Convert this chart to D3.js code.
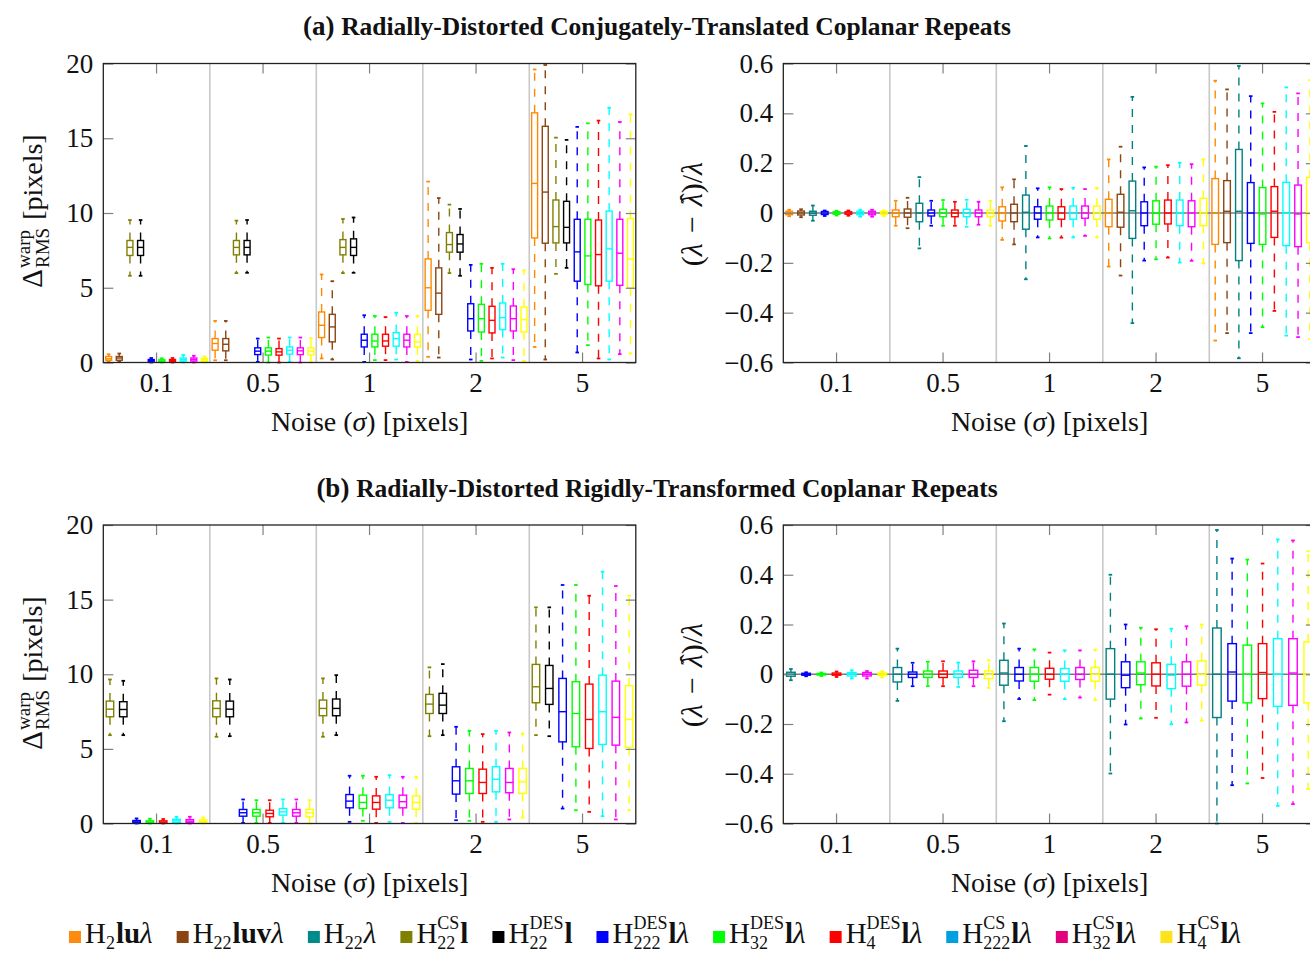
<!DOCTYPE html>
<html>
<head>
<meta charset="utf-8">
<script src="https://cdn.jsdelivr.net/npm/d3@7"></script>
<style>
  body { margin: 0; background: #fff; }
  svg text { font-family: "Liberation Serif", "Times New Roman", serif; fill: #111; }
</style>
</head>
<body>
<svg id="chart" width="1310" height="954"></svg>
<script>
// Noise levels (x groups)
const noiseLevels = ["0.1", "0.5", "1", "2", "5"];

// Stroke colours used for the box plots
const lineColors = {
  h2lu: "#ff8a00", h22luv: "#8b4513", h22: "#008080", h22csl: "#808000", h22desl: "#000000",
  h222des: "#0000ff", h32des: "#00ff00", h4des: "#ff0000", h222cs: "#00ffff", h32cs: "#ff00ff", h4cs: "#ffff00"
};
// Legend swatch colours
const swatchColors = {
  h2lu: "#ff8a10", h22luv: "#8b4513", h22: "#008b8b", h22csl: "#808000", h22desl: "#000000",
  h222des: "#0000ff", h32des: "#00ff00", h4des: "#ff0000", h222cs: "#00a0e0", h32cs: "#e4007c", h4cs: "#ffe31a"
};

// Five-number summaries per noise level: [low whisker, q1, median, q3, high whisker]
// (a) warp error, conjugately-translated repeats
const warpA = [
  ["h2lu",    [[0.05,0.15,0.25,0.4,0.55],[0.15,0.82,1.27,1.6,2.78],[0.27,1.67,2.49,3.38,5.89],[0.38,3.49,5.0,6.93,12.1],[1.04,8.33,11.98,16.7,19.6]]],
  ["h22luv",  [[0.05,0.15,0.3,0.4,0.6],[0.15,0.78,1.22,1.6,2.78],[0.2,1.38,2.38,3.22,5.44],[0.33,3.22,4.64,6.33,11.0],[0.2,7.98,11.4,15.8,19.9]]],
  ["h22csl",  [[5.8,7.16,7.7,8.16,9.53],[5.98,7.2,7.7,8.16,9.49],[5.98,7.2,7.7,8.22,9.6],[5.98,7.38,7.89,8.69,10.56],[5.93,8.0,9.09,10.87,15.04]]],
  ["h22desl", [[5.8,7.16,7.7,8.16,9.53],[6.0,7.2,7.7,8.16,9.53],[6.0,7.16,7.7,8.27,9.7],[5.8,7.38,7.93,8.56,10.27],[6.33,8.0,9.04,10.78,14.89]]],
  ["h222des", [[0.0,0.05,0.12,0.2,0.3],[0.04,0.53,0.76,0.98,1.6],[0.04,1.04,1.49,1.89,3.16],[0.2,2.11,2.93,3.93,6.53],[0.67,5.44,7.4,9.58,15.76]]],
  ["h32des",  [[0.0,0.04,0.1,0.18,0.28],[0.0,0.5,0.76,0.98,1.67],[0.16,1.04,1.44,1.89,3.11],[0.11,2.04,2.93,3.89,6.6],[1.16,5.22,7.13,9.58,16.0]]],
  ["h4des",   [[0.0,0.05,0.12,0.2,0.3],[0.0,0.49,0.71,0.93,1.6],[0.16,1.09,1.44,1.89,3.04],[0.27,1.98,2.82,3.76,6.33],[0.27,5.13,7.22,9.53,16.18]]],
  ["h222cs",  [[0.0,0.1,0.2,0.3,0.5],[0.04,0.56,0.82,1.04,1.67],[0.2,1.09,1.6,2.0,3.33],[0.33,2.2,3.0,3.98,6.6],[0.2,5.44,7.6,10.13,17.04]]],
  ["h32cs",   [[0.0,0.1,0.2,0.3,0.45],[0.0,0.53,0.78,0.98,1.67],[0.04,1.04,1.49,1.89,3.11],[0.16,2.11,2.93,3.78,6.24],[0.56,5.16,7.31,9.58,16.09]]],
  ["h4cs",    [[0.0,0.08,0.18,0.28,0.4],[0.0,0.51,0.76,0.98,1.62],[0.11,1.04,1.38,1.89,3.11],[0.11,2.04,2.87,3.71,6.16],[0.6,4.98,6.93,9.64,16.6]]]
];

// (a) relative error of the distortion parameter
const lambdaA = [
  ["h2lu",    [[-0.013,-0.007,0,0.007,0.013],[-0.051,-0.015,0,0.012,0.049],[-0.108,-0.032,0,0.025,0.103],[-0.215,-0.055,0,0.055,0.215],[-0.512,-0.126,0,0.138,0.531]]],
  ["h22luv",  [[-0.017,-0.008,0,0.008,0.015],[-0.061,-0.017,0,0.016,0.061],[-0.126,-0.035,0,0.035,0.135],[-0.251,-0.057,0.003,0.075,0.266],[-0.482,-0.119,0.007,0.13,0.496]]],
  ["h22",     [[-0.031,-0.009,-0.001,0.007,0.03],[-0.142,-0.035,0,0.039,0.144],[-0.266,-0.065,0.003,0.072,0.269],[-0.442,-0.102,0.009,0.128,0.466],[-0.583,-0.191,0.007,0.255,0.59]]],
  ["h222des", [[-0.012,-0.006,0,0.006,0.01],[-0.051,-0.012,0,0.012,0.049],[-0.098,-0.025,0,0.025,0.099],[-0.191,-0.051,0,0.045,0.183],[-0.482,-0.122,0,0.122,0.469]]],
  ["h32des",  [[-0.01,-0.005,0,0.005,0.009],[-0.051,-0.015,0,0.015,0.052],[-0.102,-0.028,0,0.028,0.103],[-0.186,-0.045,0,0.049,0.186],[-0.458,-0.126,-0.004,0.102,0.44]]],
  ["h4des",   [[-0.011,-0.005,0,0.005,0.01],[-0.051,-0.015,0,0.012,0.045],[-0.099,-0.025,0,0.025,0.096],[-0.179,-0.044,0,0.052,0.192],[-0.393,-0.098,0.007,0.106,0.406]]],
  ["h222cs",  [[-0.015,-0.007,0,0.007,0.013],[-0.055,-0.015,0,0.015,0.053],[-0.098,-0.025,0,0.028,0.101],[-0.199,-0.051,0,0.052,0.202],[-0.492,-0.131,0,0.123,0.504]]],
  ["h32cs",   [[-0.015,-0.007,0,0.007,0.013],[-0.047,-0.015,0,0.012,0.045],[-0.092,-0.021,0,0.028,0.096],[-0.192,-0.055,0,0.049,0.196],[-0.498,-0.135,-0.004,0.112,0.48]]],
  ["h4cs",    [[-0.012,-0.006,0,0.006,0.01],[-0.051,-0.015,0,0.012,0.049],[-0.098,-0.025,0,0.028,0.101],[-0.202,-0.051,0,0.059,0.215],[-0.506,-0.119,0,0.143,0.533]]]
];

// (b) warp error, rigidly-transformed repeats
const warpB = [
  ["h22csl",  [[5.92,7.15,7.66,8.2,9.65],[5.81,7.15,7.71,8.22,9.72],[5.81,7.22,7.71,8.27,9.72],[5.85,7.37,8.0,8.65,10.46],[5.92,8.09,9.16,10.66,14.48]]],
  ["h22desl", [[5.92,7.15,7.64,8.16,9.56],[5.85,7.15,7.66,8.2,9.65],[5.92,7.22,7.71,8.34,9.94],[5.92,7.37,7.93,8.72,10.68],[5.85,7.98,9.05,10.59,14.48]]],
  ["h222des", [[0.0,0.05,0.11,0.2,0.34],[0.04,0.49,0.72,0.94,1.61],[0.11,1.05,1.5,1.94,3.2],[0.22,1.97,2.86,3.8,6.48],[1.0,5.47,7.49,9.72,15.98]]],
  ["h32des",  [[0.0,0.04,0.1,0.18,0.32],[0.04,0.49,0.72,0.94,1.56],[0.18,1.0,1.41,1.9,3.2],[0.18,2.01,2.86,3.69,6.21],[0.89,5.14,7.37,9.5,15.98]]],
  ["h4des",   [[0.0,0.04,0.1,0.18,0.3],[0.04,0.45,0.67,0.89,1.56],[0.04,0.96,1.41,1.85,3.13],[0.11,2.01,2.75,3.64,5.99],[0.78,5.03,6.97,9.34,15.26]]],
  ["h222cs",  [[0.0,0.08,0.18,0.28,0.45],[0.04,0.56,0.78,1.0,1.61],[0.11,1.05,1.56,1.94,3.24],[0.11,2.12,2.97,3.8,6.21],[0.49,5.3,7.49,9.94,16.87]]],
  ["h32cs",   [[0.0,0.08,0.16,0.26,0.45],[0.04,0.49,0.72,0.94,1.61],[0.04,1.05,1.46,1.9,3.13],[0.27,2.06,2.75,3.69,6.1],[0.27,5.25,7.11,9.54,15.91]]],
  ["h4cs",    [[0.0,0.06,0.14,0.24,0.4],[0.0,0.45,0.72,0.94,1.56],[0.04,0.96,1.41,1.85,3.13],[0.4,2.01,2.79,3.69,6.03],[0.89,5.1,6.97,9.23,15.26]]]
];

// (b) relative error of the distortion parameter
const lambdaB = [
  ["h22",     [[-0.024,-0.008,0,0.008,0.021],[-0.107,-0.031,0,0.027,0.103],[-0.189,-0.044,0.005,0.056,0.204],[-0.399,-0.1,0,0.103,0.4],[-0.6,-0.174,0,0.186,0.58]]],
  ["h222des", [[-0.008,-0.004,0,0.004,0.008],[-0.048,-0.013,0,0.009,0.046],[-0.1,-0.027,0,0.027,0.103],[-0.202,-0.054,-0.004,0.05,0.2],[-0.446,-0.108,0.009,0.123,0.465]]],
  ["h32des",  [[-0.007,-0.003,0,0.003,0.007],[-0.048,-0.013,0,0.013,0.05],[-0.104,-0.028,0,0.027,0.1],[-0.178,-0.042,0.005,0.05,0.187],[-0.439,-0.115,0,0.117,0.461]]],
  ["h4des",   [[-0.011,-0.004,0,0.005,0.011],[-0.048,-0.013,0,0.013,0.052],[-0.082,-0.02,0,0.024,0.087],[-0.175,-0.047,0,0.046,0.181],[-0.417,-0.098,0.007,0.123,0.445]]],
  ["h222cs",  [[-0.017,-0.007,0,0.007,0.016],[-0.051,-0.013,0,0.013,0.047],[-0.1,-0.028,0,0.023,0.096],[-0.201,-0.058,-0.004,0.04,0.183],[-0.529,-0.129,0,0.143,0.542]]],
  ["h32cs",   [[-0.017,-0.007,0,0.007,0.013],[-0.048,-0.013,0,0.016,0.052],[-0.094,-0.021,0,0.027,0.096],[-0.194,-0.048,0,0.05,0.193],[-0.522,-0.125,0.005,0.143,0.538]]],
  ["h4cs",    [[-0.013,-0.005,0,0.005,0.012],[-0.055,-0.017,0,0.013,0.056],[-0.104,-0.028,0,0.027,0.099],[-0.187,-0.044,0,0.054,0.2],[-0.462,-0.115,0,0.13,0.494]]]
];

// Axis tick values
const warpTicks = [0, 5, 10, 15, 20];
const lambdaTicks = [-0.6, -0.4, -0.2, 0, 0.2, 0.4, 0.6];

// Legend entries: key, subscript, superscript, trailing parts
const legendLabels = [
  ["h2lu", "2", "", [["lu", "b"], ["λ", "i"]]],
  ["h22luv", "22", "", [["luv", "b"], ["λ", "i"]]],
  ["h22", "22", "", [["λ", "i"]]],
  ["h22csl", "22", "CS", [["l", "b"]]],
  ["h22desl", "22", "DES", [["l", "b"]]],
  ["h222des", "222", "DES", [["l", "b"], ["λ", "i"]]],
  ["h32des", "32", "DES", [["l", "b"], ["λ", "i"]]],
  ["h4des", "4", "DES", [["l", "b"], ["λ", "i"]]],
  ["h222cs", "222", "CS", [["l", "b"], ["λ", "i"]]],
  ["h32cs", "32", "CS", [["l", "b"], ["λ", "i"]]],
  ["h4cs", "4", "CS", [["l", "b"], ["λ", "i"]]]
];

const svg = d3.select("#chart");
const TICK_FS = 27;
const LABEL_FS = 28;

function drawPanel(cfg) {
  const g = svg.append("g");
  const x = d3.scaleBand().domain(noiseLevels).range([cfg.x0, cfg.x1]);
  const keys = cfg.data.map(d => d[0]);
  const xs = d3.scaleBand().domain(keys).range([0, x.bandwidth()]);
  const y = d3.scaleLinear().domain(cfg.domain).range([cfg.y1, cfg.y0]);

  // group separators
  g.append("g").selectAll("line").data(noiseLevels.slice(1)).join("line")
    .attr("x1", d => x(d)).attr("x2", d => x(d))
    .attr("y1", cfg.y0).attr("y2", cfg.y1)
    .attr("stroke", "#c8c8c8").attr("stroke-width", 1.6);

  if (cfg.zeroLine) {
    g.append("line").attr("x1", cfg.x0).attr("x2", cfg.x1)
      .attr("y1", y(0)).attr("y2", y(0))
      .attr("stroke", "#7a7a7a").attr("stroke-width", 1.6);
  }

  const boxes = cfg.data.flatMap(([key, stats]) =>
    stats.map((s, i) => ({ key, noise: noiseLevels[i], lo: s[0], q1: s[1], med: s[2], q3: s[3], hi: s[4] })));
  const bw = xs.bandwidth() * 0.56;
  const cw = 3.6;

  const bg = g.append("g").selectAll("g").data(boxes).join("g")
    .attr("transform", d => `translate(${x(d.noise) + xs(d.key) + xs.bandwidth() / 2},0)`)
    .attr("stroke", d => lineColors[d.key])
    .attr("fill", "none")
    .attr("stroke-width", 1.4);

  bg.append("line").attr("x1", 0).attr("x2", 0)
    .attr("y1", d => y(d.q3)).attr("y2", d => y(d.hi))
    .attr("stroke-dasharray", "8,8");
  bg.append("line").attr("x1", 0).attr("x2", 0)
    .attr("y1", d => y(d.q1)).attr("y2", d => y(d.lo))
    .attr("stroke-dasharray", "8,8");
  bg.append("line").attr("x1", -cw / 2).attr("x2", cw / 2)
    .attr("y1", d => y(d.hi)).attr("y2", d => y(d.hi)).attr("stroke-width", 1.8);
  bg.append("line").attr("x1", -cw / 2).attr("x2", cw / 2)
    .attr("y1", d => y(d.lo)).attr("y2", d => y(d.lo)).attr("stroke-width", 1.8);
  bg.append("rect").attr("x", -bw / 2).attr("width", bw)
    .attr("y", d => y(d.q3)).attr("height", d => Math.max(0.5, y(d.q1) - y(d.q3)));
  bg.append("line").attr("x1", -bw / 2).attr("x2", bw / 2)
    .attr("y1", d => y(d.med)).attr("y2", d => y(d.med));

  // axes with inward ticks
  const left = g.append("g").attr("transform", `translate(${cfg.x0},0)`)
    .call(d3.axisLeft(y).tickValues(cfg.ticks).tickFormat(cfg.fmt).tickSize(-10).tickPadding(10));
  const right = g.append("g").attr("transform", `translate(${cfg.x1},0)`)
    .call(d3.axisRight(y).tickValues(cfg.ticks).tickFormat("").tickSize(-10));
  const bottom = g.append("g").attr("transform", `translate(0,${cfg.y1})`)
    .call(d3.axisBottom(x).tickSize(-10).tickPadding(10));
  const top = g.append("g").attr("transform", `translate(0,${cfg.y0})`)
    .call(d3.axisTop(x).tickSize(-10).tickFormat(""));
  [left, right, bottom, top].forEach(a => {
    a.select(".domain").remove();
    a.selectAll(".tick line").attr("stroke", "#808080").attr("stroke-width", 1.2);
    a.selectAll("text").attr("font-size", TICK_FS).attr("fill", "#111")
      .attr("font-family", "Liberation Serif, serif");
  });

  // frame
  g.append("rect").attr("x", cfg.x0).attr("y", cfg.y0)
    .attr("width", cfg.x1 - cfg.x0).attr("height", cfg.y1 - cfg.y0)
    .attr("fill", "none").attr("stroke", "#222").attr("stroke-width", 1.3);

  // x-axis title
  const xt = g.append("text").attr("x", (cfg.x0 + cfg.x1) / 2).attr("y", cfg.y1 + 68)
    .attr("text-anchor", "middle").attr("font-size", LABEL_FS);
  xt.append("tspan").text("Noise (");
  xt.append("tspan").attr("font-style", "italic").text("σ");
  xt.append("tspan").text(") [pixels]");
}

function warpLabel(cx, cy) {
  const g = svg.append("g").attr("transform", `translate(${cx},${cy}) rotate(-90)`);
  const d = g.append("text").attr("x", 0).attr("y", 0).attr("font-size", 29).text("Δ");
  let w = d.node().getComputedTextLength();
  const sp = g.append("text").attr("x", w + 1).attr("y", -12).attr("font-size", 19).text("warp");
  const sb = g.append("text").attr("x", w + 1).attr("y", 7).attr("font-size", 19).text("RMS");
  w += 2 + Math.max(sp.node().getComputedTextLength(), sb.node().getComputedTextLength());
  const p = g.append("text").attr("x", w + 7).attr("y", 0).attr("font-size", LABEL_FS).text("[pixels]");
  w += 7 + p.node().getComputedTextLength();
  g.selectAll("text").attr("transform", `translate(${-w / 2},0)`);
}

function lambdaLabel(cx, cy) {
  const g = svg.append("g").attr("transform", `translate(${cx},${cy}) rotate(-90)`);
  const t = g.append("text").attr("x", 0).attr("y", 0).attr("font-size", 30).attr("text-anchor", "middle");
  t.append("tspan").text("(");
  t.append("tspan").attr("font-style", "italic").text("λ");
  t.append("tspan").text("\u2004−\u2004");
  t.append("tspan").attr("font-style", "italic").text("λ");
  t.append("tspan").text(")/");
  t.append("tspan").attr("font-style", "italic").text("λ");
  // circumflex over the estimated parameter (character index 5)
  const ext = t.node().getExtentOfChar(5);
  g.append("text").attr("x", ext.x + ext.width / 2 + 2).attr("y", -3)
    .attr("text-anchor", "middle").attr("font-size", 27).text("ˆ");
}

function title(cy, tag, text) {
  const t = svg.append("text").attr("x", 657).attr("y", cy).attr("text-anchor", "middle")
    .attr("font-weight", "bold");
  t.append("tspan").attr("font-size", 27).text(tag + " ");
  t.append("tspan").attr("font-size", 25.5).text(text);
}

const fmtWarp = d3.format("d");
const fmtLambda = v => (Math.abs(v) < 1e-9 ? "0" : d3.format(".1f")(v));

title(35, "(a)", "Radially-Distorted Conjugately-Translated Coplanar Repeats");
title(497, "(b)", "Radially-Distorted Rigidly-Transformed Coplanar Repeats");

drawPanel({ data: warpA, x0: 103.3, x1: 635.8, y0: 63.5, y1: 362.5, domain: [0, 20], ticks: warpTicks, fmt: fmtWarp });
drawPanel({ data: lambdaA, x0: 783.3, x1: 1315.8, y0: 63.5, y1: 362.5, domain: [-0.6, 0.6], ticks: lambdaTicks, fmt: fmtLambda, zeroLine: true });
drawPanel({ data: warpB, x0: 103.3, x1: 635.8, y0: 525, y1: 823.5, domain: [0, 20], ticks: warpTicks, fmt: fmtWarp });
drawPanel({ data: lambdaB, x0: 783.3, x1: 1315.8, y0: 525, y1: 823.5, domain: [-0.6, 0.6], ticks: lambdaTicks, fmt: fmtLambda, zeroLine: true });

warpLabel(42, 211);
warpLabel(42, 673);
lambdaLabel(702, 214);
lambdaLabel(702, 675);

// legend
(function legend() {
  const lg = svg.append("g");
  const baseY = 943, fs = 29, sfs = 18, gap = 24;
  let cx = 0;
  legendLabels.forEach(([key, sub, sup, tail]) => {
    lg.append("rect").attr("x", cx).attr("y", baseY - 12).attr("width", 12).attr("height", 12)
      .attr("fill", swatchColors[key]);
    cx += 16;
    const h = lg.append("text").attr("x", cx).attr("y", baseY).attr("font-size", fs).text("H");
    cx += h.node().getComputedTextLength();
    const sb = lg.append("text").attr("x", cx).attr("y", baseY + 6).attr("font-size", sfs).text(sub);
    let w = sb.node().getComputedTextLength();
    if (sup) {
      const sp = lg.append("text").attr("x", cx).attr("y", baseY - 14).attr("font-size", sfs).text(sup);
      w = Math.max(w, sp.node().getComputedTextLength());
    }
    cx += w + 1;
    tail.forEach(([txt, style]) => {
      const e = lg.append("text").attr("x", cx).attr("y", baseY).attr("font-size", fs).text(txt);
      if (style === "b") e.attr("font-weight", "bold");
      else e.attr("font-style", "italic");
      cx += e.node().getComputedTextLength();
    });
    cx += gap;
  });
  const total = cx - gap;
  lg.attr("transform", `translate(${655 - total / 2},0)`);
})();
</script>
</body>
</html>
